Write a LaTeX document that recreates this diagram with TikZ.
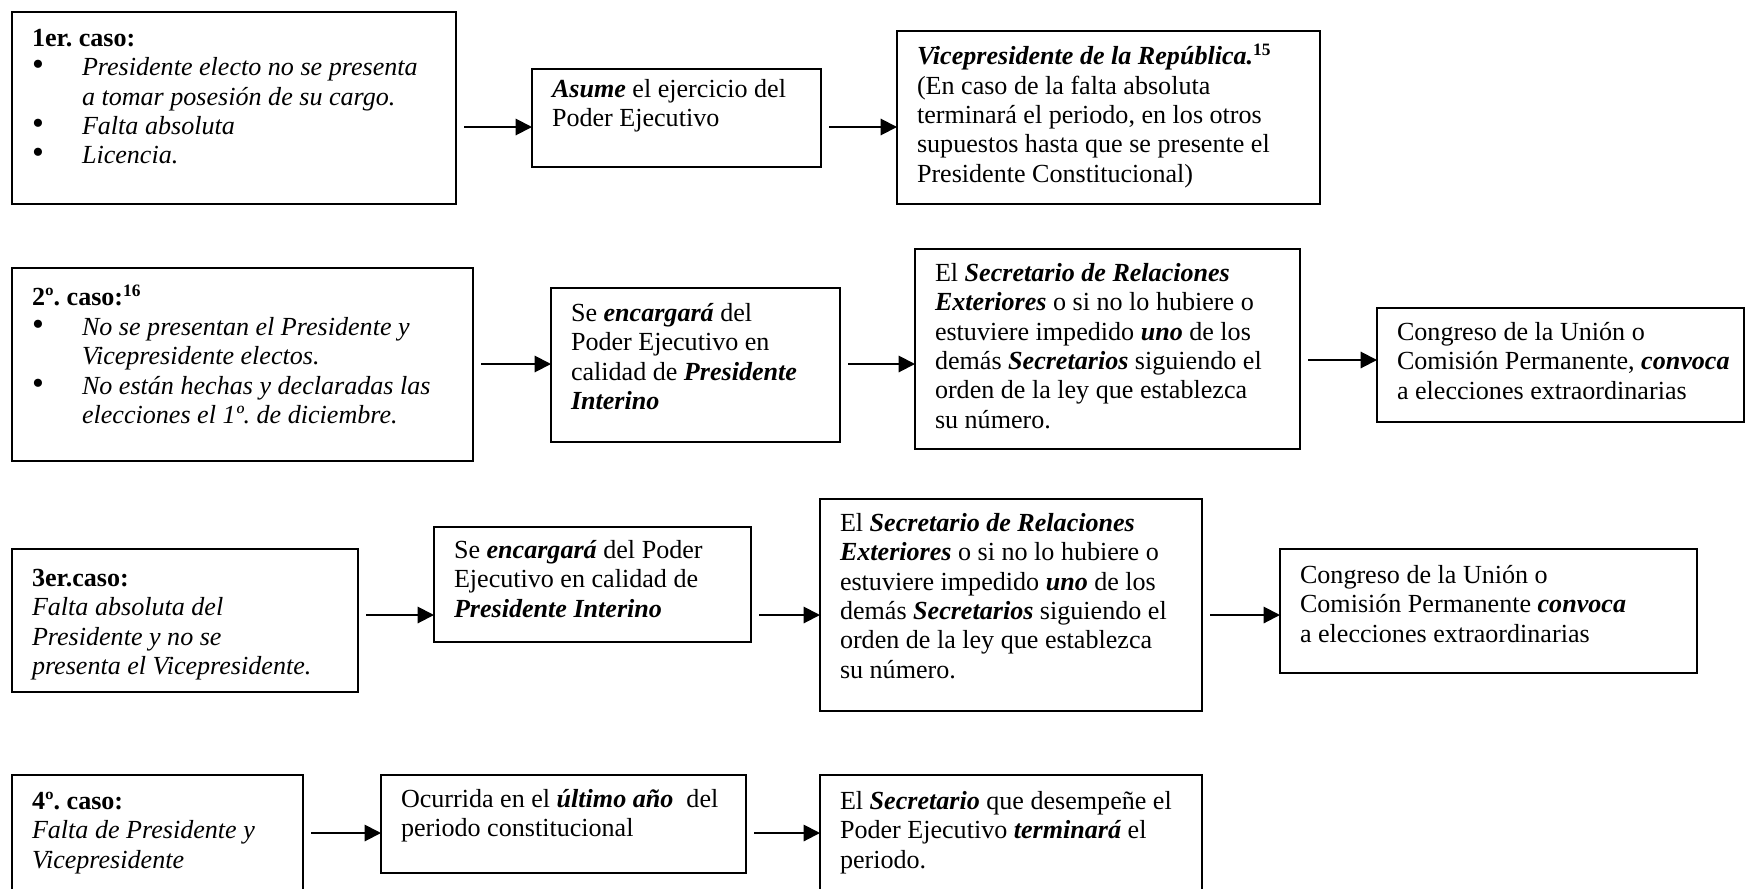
\documentclass[tikz,border=0pt]{standalone}
\usepackage{fontspec}
\setmainfont{Liberation Serif}
\usetikzlibrary{arrows.meta,calc}
\newlength{\px}\setlength{\px}{0.46pt}
\newcommand{\bi}[1]{\textbf{\textit{#1}}}
\newcommand{\bul}{\makebox[50\px][l]{\smash{\scalebox{1.3}{•}}}}
\newcommand{\ind}{\hspace*{50\px}}
% \boxtxt[top inset]{width}{height}{text}
\newcommand{\boxtxt}[4][12]{\parbox[c][#3\px][t]{#2\px}{\vspace*{#1\px}\leftskip=20\px\relax\frenchspacing\strut #4\par}}
\begin{document}
\begin{tikzpicture}[x=0.46pt,y=-0.46pt,
  box/.style={draw, line width=0.7pt, inner sep=0pt, outer sep=0pt, anchor=north west, font=\fontsize{12}{13.5}\selectfont},
  arr/.style={line width=0.9pt, -{Triangle[length=7.5pt,width=7.5pt]}}]
\useasboundingbox (0,0) rectangle (1745,888);
\clip (0,0) rectangle (1745,888);
% Row 1
\node[box] (b11) at (12,12) {\boxtxt[14]{444}{192}{\textbf{1er. caso:}\\
 \bul\textit{Presidente electo no se presenta}\\
 \ind\textit{a tomar posesión de su cargo.}\\
 \bul\textit{Falta absoluta}\\
 \bul\textit{Licencia.}}};
\node[box] (b12) at (532,69) {\boxtxt[8]{289}{98}{\bi{Asume} el ejercicio del\\ Poder Ejecutivo}};
\node[box] (b13) at (897,31) {\boxtxt[13]{423}{173}{\bi{Vicepresidente de la República.}\textsuperscript{\textbf{15}}\\
 (En caso de la falta absoluta\\
 terminará el periodo, en los otros\\
 supuestos hasta que se presente el\\
 Presidente Constitucional)}};
% Row 2
\node[box] (b21) at (12,268) {\boxtxt[17]{461}{193}{\textbf{2º. caso:}\textsuperscript{\textbf{16}}\\
 \bul\textit{No se presentan el Presidente y}\\
 \ind\textit{Vicepresidente electos.}\\
 \bul\textit{No están hechas y declaradas las}\\
 \ind\textit{elecciones el 1º. de diciembre.}}};
\node[box] (b22) at (551,288) {\boxtxt[13]{289}{154}{Se \bi{encargará} del\\ Poder Ejecutivo en\\ calidad de \bi{Presidente}\\ \bi{Interino}}};
\node[box] (b23) at (915,249) {\boxtxt[12]{385}{200}{El \bi{Secretario de Relaciones}\\
 \bi{Exteriores} o si no lo hubiere o\\
 estuviere impedido \bi{uno} de los\\
 demás \bi{Secretarios} siguiendo el\\
 orden de la ley que establezca\\
 su número.}};
\node[box] (b24) at (1377,308) {\boxtxt[12]{367}{114}{Congreso de la Unión o\\ Comisión Permanente, \bi{convoca}\\ a elecciones extraordinarias}};
% Row 3
\node[box] (b31) at (12,549) {\boxtxt[17]{346}{143}{\textbf{3er.caso:}\\ \textit{Falta absoluta del}\\ \textit{Presidente y no se}\\ \textit{presenta el Vicepresidente.}}};
\node[box] (b32) at (434,527) {\boxtxt[11]{317}{115}{Se \bi{encargará} del Poder\\ Ejecutivo en calidad de\\ \bi{Presidente Interino}}};
\node[box] (b33) at (820,499) {\boxtxt[12]{382}{212}{El \bi{Secretario de Relaciones}\\
 \bi{Exteriores} o si no lo hubiere o\\
 estuviere impedido \bi{uno} de los\\
 demás \bi{Secretarios} siguiendo el\\
 orden de la ley que establezca\\
 su número.}};
\node[box] (b34) at (1280,549) {\boxtxt[14]{417}{124}{Congreso de la Unión o\\ Comisión Permanente \bi{convoca}\\ a elecciones extraordinarias}};
% Row 4
\node[box] (b41) at (12,775) {\boxtxt[14]{291}{140}{\textbf{4º. caso:}\\ \textit{Falta de Presidente y}\\ \textit{Vicepresidente}}};
\node[box] (b42) at (381,775) {\boxtxt[12]{365}{98}{Ocurrida en el \bi{último año}\ \ del\\ periodo constitucional}};
\node[box] (b43) at (820,775) {\boxtxt[14]{382}{140}{El \bi{Secretario} que desempeñe el\\ Poder Ejecutivo \bi{terminará} el\\ periodo.}};
% arrow levels
\coordinate (r1) at (0,127);
\coordinate (r2) at (0,364);
\coordinate (r2b) at (0,360);
\coordinate (r3) at (0,615);
\coordinate (r4) at (0,833);
\draw[arr] ($(b11.east |- r1)+(8,0)$) -- (b12.west |- r1);
\draw[arr] ($(b12.east |- r1)+(8,0)$) -- (b13.west |- r1);
\draw[arr] ($(b21.east |- r2)+(8,0)$) -- (b22.west |- r2);
\draw[arr] ($(b22.east |- r2)+(8,0)$) -- (b23.west |- r2);
\draw[arr] ($(b23.east |- r2b)+(8,0)$) -- (b24.west |- r2b);
\draw[arr] ($(b31.east |- r3)+(8,0)$) -- (b32.west |- r3);
\draw[arr] ($(b32.east |- r3)+(8,0)$) -- (b33.west |- r3);
\draw[arr] ($(b33.east |- r3)+(8,0)$) -- (b34.west |- r3);
\draw[arr] ($(b41.east |- r4)+(8,0)$) -- (b42.west |- r4);
\draw[arr] ($(b42.east |- r4)+(8,0)$) -- (b43.west |- r4);
\end{tikzpicture}
\end{document}
